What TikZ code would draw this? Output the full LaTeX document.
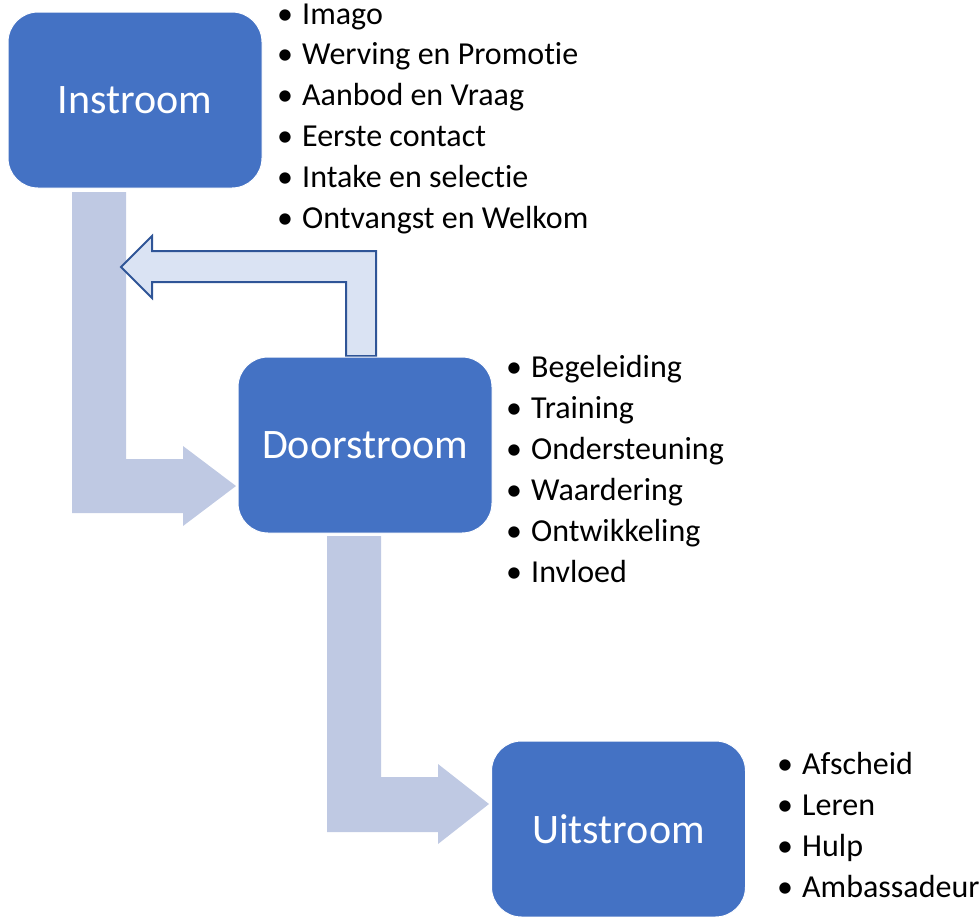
\documentclass[tikz,border=0pt]{standalone}
\usepackage{fontspec}
\setmainfont{Carlito}[Ligatures={NoCommon,NoContextual}]
\definecolor{boxblue}{HTML}{4472C4}
\definecolor{flowblue}{HTML}{BFC9E3}
\definecolor{backfill}{HTML}{DAE3F3}
\definecolor{backline}{HTML}{2F5597}
\newcommand\itembul{\llap{\makebox[34pt][c]{\textbullet}}}
\begin{document}
\begin{tikzpicture}[x=1pt,y=-1pt,
  phase/.style={rectangle, rounded corners=30pt, fill=boxblue, draw=white, line width=1pt,
    minimum width=254pt, minimum height=176pt, text=white, inner sep=0pt,
    font=\fontsize{42}{50}\selectfont},
  item/.style={anchor=base west, inner sep=0pt, font=\fontsize{32}{38}\selectfont},
  flow/.style={fill=flowblue, draw=none},
  backflow/.style={fill=backfill, draw=backline, line width=2pt, line join=miter}]
\useasboundingbox (0,0) rectangle (980,916);
% flow arrows
\fill[flow] (72,192) -- (126,192) -- (126,459) -- (183,459) -- (183,446) -- (236,486)
  -- (183,526) -- (183,513) -- (72,513) -- cycle;
\fill[flow] (327,536) -- (381,536) -- (381,777) -- (438,777) -- (438,764) -- (489,804)
  -- (438,844) -- (438,832) -- (327,832) -- cycle;
\draw[backflow] (346,356) -- (346,282) -- (152,282) -- (152,298) -- (121,267) -- (152,236)
  -- (152,251) -- (376,251) -- (376,356) -- cycle;
% phases
\node[phase] (in) at (135,100) {Instroom};
\node[phase] (dn) at (365,445) {Doorstroom};
\node[phase] (ut) at (618.5,829) {Uitstroom};
% lists
\foreach \t [count=\k] in {Imago, Werving en Promotie, Aanbod en Vraag, Eerste contact, Intake en selectie, Ontvangst en Welkom}
  \node[item] (il\k) at (302, {24+40.8*(\k-1)}) {\itembul\t};
\foreach \t [count=\k] in {Begeleiding, Training, Ondersteuning, Waardering, Ontwikkeling, Invloed}
  \node[item] (dl\k) at (531, {377+41*(\k-1)}) {\itembul\t};
\foreach \t [count=\k] in {Afscheid, Leren, Hulp, Ambassadeur}
  \node[item] (ul\k) at (802, {774+41*(\k-1)}) {\itembul\t};
\end{tikzpicture}
\end{document}
